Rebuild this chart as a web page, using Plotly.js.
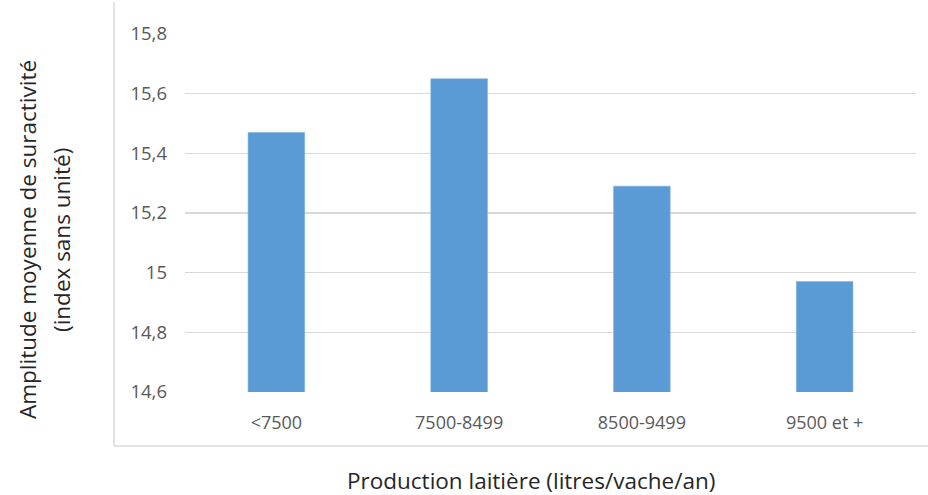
<!DOCTYPE html>
<html>
<head>
<meta charset="utf-8">
<script src="https://cdn.plot.ly/plotly-3.0.1.min.js"></script>
<style>html,body{margin:0;padding:0;background:#fff;}#chart{width:928px;height:495px;}</style>
</head>
<body>
<div id="chart"></div>
<script>
const categories = ["<7500", "7500-8499", "8500-9499", "9500 et +"];
const values = [15.47, 15.65, 15.29, 14.97];
const yTitleLine1 = "Amplitude moyenne de suractivité";
const yTitleLine2 = "(index sans unité)";
const xTitle = "Production laitière (litres/vache/an)";

const FONT = "Open Sans, sans-serif";
const L = 185, R = 916, T = 34, B = 392;
const W = 928, H = 495;
const px = x => (x - L) / (R - L);
const py = y => (B - y) / (B - T);

const trace = {
  type: "bar",
  x: categories,
  y: values,
  marker: {color: "#5b9bd5", line: {color: "#7fb1e0", width: 0.6}},
  hoverinfo: "x+y"
};

const layout = {
  width: W, height: H,
  margin: {l: L, r: W - R, t: T, b: H - B, pad: 0},
  paper_bgcolor: "#fff",
  plot_bgcolor: "#fff",
  separators: ", ",
  showlegend: false,
  bargap: 0.69,
  font: {family: FONT, color: "#595959", size: 18},
  xaxis: {
    type: "category",
    showgrid: false,
    zeroline: false,
    showline: false,
    ticks: "",
    ticklabelstandoff: 18,
    tickfont: {family: FONT, size: 18, color: "#595959"}
  },
  yaxis: {
    range: [14.6, 15.8],
    dtick: 0.2,
    tick0: 14.6,
    showgrid: true,
    gridcolor: "#d9d9d9",
    gridwidth: 1.5,
    zeroline: false,
    showline: false,
    ticks: "",
    ticklabelstandoff: 17,
    tickfont: {family: FONT, size: 18.5, color: "#595959"}
  },
  shapes: [
    {type: "line", xref: "paper", yref: "paper", x0: px(114), x1: px(114), y0: py(2), y1: py(446), line: {color: "#d9d9d9", width: 1.5}},
    {type: "line", xref: "paper", yref: "paper", x0: px(114), x1: px(928), y0: py(446), y1: py(446), line: {color: "#d9d9d9", width: 1.5}}
  ],
  annotations: [
    {text: xTitle, xref: "paper", yref: "paper", x: px(531), y: py(480), xanchor: "center", yanchor: "middle", showarrow: false, font: {family: FONT, size: 22.5, color: "#262626"}},
    {text: yTitleLine1, xref: "paper", yref: "paper", x: px(27), y: py(240), xanchor: "center", yanchor: "middle", textangle: -90, showarrow: false, font: {family: FONT, size: 22.5, color: "#262626"}},
    {text: yTitleLine2, xref: "paper", yref: "paper", x: px(61), y: py(240), xanchor: "center", yanchor: "middle", textangle: -90, showarrow: false, font: {family: FONT, size: 22.5, color: "#262626"}}
  ]
};

Plotly.newPlot("chart", [trace], layout, {displayModeBar: false, staticPlot: true});
</script>
</body>
</html>
